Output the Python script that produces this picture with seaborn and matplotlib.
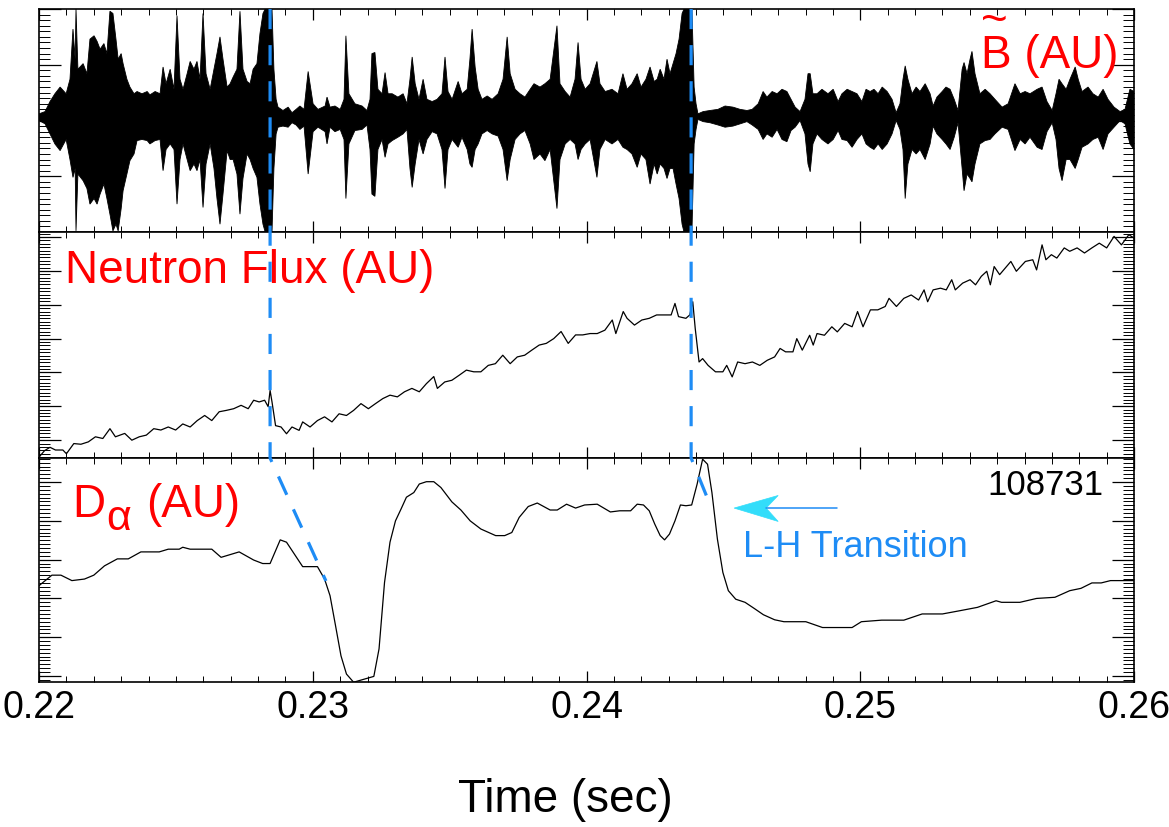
import numpy as np
import pandas as pd
import matplotlib
matplotlib.use("Agg")
import matplotlib.pyplot as plt
from matplotlib.ticker import MultipleLocator, FormatStrFormatter
from matplotlib.patches import Polygon
import seaborn as sns

# ---------------------------------------------------------------------------
# Shot 108731 : magnetic fluctuations, neutron flux and D-alpha around two
# L-H transitions.  Times are in ms, signals in arbitrary units.
# ---------------------------------------------------------------------------

shot_label = "108731"
transition_ms = [228.44, 243.82]
# where the transition marker meets the D-alpha trace
transition_dalpha_ms = [230.48, 244.58]
transition_dalpha_val = [2.45, 4.30]

# B-tilde: upper / lower envelope of the fluctuation signal
b_time_ms = [
    220.00, 220.22, 220.40, 220.58, 220.77, 220.99, 221.13, 221.24, 221.32, 221.35,
    221.42, 221.61, 221.75, 221.86, 222.01, 222.12, 222.23, 222.37, 222.48, 222.59,
    222.70, 222.81, 222.89, 223.00, 223.07, 223.21, 223.32, 223.47, 223.58, 223.76,
    223.95, 224.05, 224.24, 224.42, 224.53, 224.64, 224.79, 224.93, 225.04, 225.15,
    225.26, 225.41, 225.52, 225.66, 225.77, 225.88, 225.99, 226.10, 226.25, 226.39,
    226.50, 226.61, 226.72, 226.87, 226.98, 227.09, 227.23, 227.34, 227.45, 227.60,
    227.71, 227.82, 227.96, 228.07, 228.18, 228.26, 228.51, 228.58, 228.66, 228.73,
    228.91, 229.10, 229.24, 229.39, 229.53, 229.68, 229.83, 230.01, 230.19, 230.45,
    230.52, 230.63, 230.81, 231.00, 231.14, 231.21, 231.32, 231.54, 231.80, 231.98,
    232.09, 232.16, 232.27, 232.38, 232.53, 232.64, 232.75, 232.90, 233.11, 233.30,
    233.44, 233.55, 233.63, 233.74, 233.88, 234.03, 234.17, 234.36, 234.54, 234.72,
    234.83, 234.94, 235.09, 235.31, 235.45, 235.64, 235.74, 235.82, 235.93, 236.04,
    236.18, 236.37, 236.55, 236.77, 236.95, 237.10, 237.21, 237.39, 237.57, 237.75,
    237.94, 238.08, 238.30, 238.48, 238.67, 238.92, 239.03, 239.22, 239.40, 239.58,
    239.69, 239.80, 239.95, 240.13, 240.38, 240.49, 240.68, 240.93, 241.15, 241.33,
    241.48, 241.66, 241.85, 241.99, 242.17, 242.32, 242.47, 242.58, 242.69, 242.83,
    242.94, 243.05, 243.16, 243.27, 243.38, 243.49, 243.56, 243.85, 243.93, 244.00,
    244.07, 244.26, 244.51, 244.80, 245.06, 245.35, 245.61, 245.86, 246.05, 246.27,
    246.45, 246.59, 246.78, 246.96, 247.14, 247.32, 247.47, 247.62, 247.80, 247.98,
    248.09, 248.17, 248.27, 248.42, 248.60, 248.82, 249.01, 249.19, 249.33, 249.52,
    249.70, 249.88, 250.06, 250.21, 250.36, 250.50, 250.65, 250.80, 250.98, 251.16,
    251.31, 251.45, 251.56, 251.64, 251.74, 251.89, 252.04, 252.18, 252.37, 252.55,
    252.66, 252.80, 252.99, 253.13, 253.28, 253.43, 253.57, 253.72, 253.79, 253.90,
    254.01, 254.08, 254.19, 254.37, 254.56, 254.74, 254.92, 255.18, 255.40, 255.65,
    255.84, 256.02, 256.20, 256.46, 256.64, 256.82, 257.01, 257.15, 257.26, 257.37,
    257.52, 257.66, 257.85, 257.96, 258.10, 258.32, 258.50, 258.69, 258.87, 259.05,
    259.27, 259.49, 259.67, 259.85, 260.00,
]
b_upper = [
    0.06, 0.08, 0.17, 0.24, 0.30, 0.24, 0.37, 0.82, 0.55, 1.00,
    0.46, 0.51, 0.42, 0.73, 0.76, 0.71, 0.64, 0.69, 0.60, 0.98,
    0.96, 0.73, 0.55, 0.60, 0.51, 0.37, 0.30, 0.24, 0.26, 0.24,
    0.26, 0.23, 0.26, 0.24, 0.48, 0.33, 0.46, 0.28, 0.94, 0.37,
    0.28, 0.42, 0.53, 0.46, 0.53, 0.37, 0.96, 0.42, 0.28, 0.46,
    0.60, 0.75, 0.55, 0.30, 0.33, 0.39, 0.46, 0.98, 0.46, 0.35,
    0.33, 0.46, 0.51, 0.78, 0.96, 1.00, 1.00, 0.46, 0.19, 0.12,
    0.09, 0.12, 0.07, 0.10, 0.13, 0.10, 0.44, 0.15, 0.10, 0.13,
    0.21, 0.12, 0.13, 0.10, 0.19, 0.76, 0.24, 0.15, 0.13, 0.09,
    0.19, 0.60, 0.61, 0.28, 0.24, 0.43, 0.24, 0.24, 0.21, 0.24,
    0.15, 0.37, 0.57, 0.33, 0.19, 0.37, 0.19, 0.17, 0.19, 0.24,
    0.57, 0.26, 0.19, 0.35, 0.24, 0.28, 0.55, 0.82, 0.48, 0.28,
    0.19, 0.22, 0.19, 0.24, 0.37, 0.75, 0.42, 0.28, 0.24, 0.21,
    0.28, 0.33, 0.30, 0.33, 0.37, 0.85, 0.33, 0.26, 0.21, 0.37,
    0.70, 0.37, 0.28, 0.33, 0.53, 0.33, 0.26, 0.28, 0.24, 0.42,
    0.28, 0.33, 0.42, 0.30, 0.37, 0.48, 0.35, 0.37, 0.46, 0.37,
    0.55, 0.42, 0.51, 0.60, 0.73, 0.96, 1.00, 1.00, 0.30, 0.15,
    0.06, 0.08, 0.09, 0.10, 0.13, 0.12, 0.10, 0.09, 0.10, 0.15,
    0.26, 0.21, 0.26, 0.24, 0.28, 0.26, 0.19, 0.12, 0.08, 0.19,
    0.42, 0.42, 0.24, 0.24, 0.28, 0.24, 0.28, 0.17, 0.24, 0.28,
    0.26, 0.24, 0.17, 0.28, 0.26, 0.28, 0.24, 0.30, 0.26, 0.19,
    0.07, 0.15, 0.37, 0.49, 0.37, 0.24, 0.30, 0.26, 0.33, 0.24,
    0.13, 0.21, 0.26, 0.30, 0.28, 0.19, 0.09, 0.46, 0.52, 0.42,
    0.55, 0.62, 0.42, 0.24, 0.28, 0.24, 0.19, 0.12, 0.15, 0.33,
    0.24, 0.26, 0.24, 0.28, 0.30, 0.17, 0.09, 0.24, 0.37, 0.33,
    0.28, 0.37, 0.48, 0.37, 0.26, 0.30, 0.24, 0.21, 0.28, 0.19,
    0.12, 0.08, 0.10, 0.28, 0.26,
]
b_lower = [
    -0.00, -0.03, -0.12, -0.21, -0.27, -0.17, -0.35, -0.51, -0.43, -0.99,
    -0.48, -0.54, -0.61, -0.75, -0.70, -0.75, -0.66, -0.57, -0.70, -0.84,
    -0.99, -0.93, -0.99, -0.79, -0.63, -0.48, -0.36, -0.30, -0.18, -0.17,
    -0.18, -0.21, -0.18, -0.17, -0.45, -0.26, -0.21, -0.26, -0.75, -0.35,
    -0.21, -0.35, -0.45, -0.39, -0.45, -0.35, -0.78, -0.39, -0.21, -0.43,
    -0.70, -0.93, -0.66, -0.27, -0.35, -0.35, -0.48, -0.84, -0.52, -0.30,
    -0.35, -0.43, -0.51, -0.75, -0.93, -1.00, -1.00, -0.43, -0.12, -0.06,
    -0.05, -0.06, -0.02, -0.04, -0.08, -0.05, -0.48, -0.10, -0.06, -0.10,
    -0.21, -0.06, -0.10, -0.08, -0.17, -0.70, -0.21, -0.09, -0.08, -0.04,
    -0.26, -0.66, -0.68, -0.26, -0.17, -0.33, -0.21, -0.18, -0.15, -0.12,
    -0.08, -0.43, -0.60, -0.39, -0.17, -0.30, -0.17, -0.10, -0.12, -0.26,
    -0.61, -0.26, -0.17, -0.24, -0.15, -0.26, -0.39, -0.42, -0.26, -0.21,
    -0.12, -0.09, -0.12, -0.14, -0.26, -0.54, -0.35, -0.17, -0.12, -0.09,
    -0.21, -0.35, -0.30, -0.36, -0.26, -0.79, -0.35, -0.21, -0.17, -0.21,
    -0.35, -0.26, -0.21, -0.17, -0.51, -0.26, -0.17, -0.21, -0.17, -0.24,
    -0.26, -0.30, -0.42, -0.30, -0.35, -0.57, -0.39, -0.48, -0.39, -0.43,
    -0.52, -0.43, -0.43, -0.57, -0.70, -0.93, -1.00, -1.00, -0.21, -0.08,
    0.01, -0.01, -0.02, -0.04, -0.06, -0.05, -0.03, -0.01, -0.04, -0.08,
    -0.17, -0.12, -0.15, -0.08, -0.17, -0.19, -0.09, -0.06, -0.00, -0.12,
    -0.39, -0.46, -0.21, -0.12, -0.17, -0.21, -0.17, -0.09, -0.17, -0.18,
    -0.24, -0.17, -0.12, -0.21, -0.24, -0.26, -0.21, -0.26, -0.21, -0.12,
    -0.00, -0.08, -0.26, -0.70, -0.39, -0.26, -0.30, -0.26, -0.35, -0.21,
    -0.05, -0.12, -0.17, -0.21, -0.26, -0.15, -0.02, -0.43, -0.63, -0.48,
    -0.52, -0.55, -0.39, -0.21, -0.18, -0.17, -0.12, -0.06, -0.08, -0.27,
    -0.17, -0.21, -0.15, -0.24, -0.26, -0.10, -0.02, -0.17, -0.43, -0.54,
    -0.35, -0.35, -0.43, -0.35, -0.24, -0.21, -0.17, -0.15, -0.26, -0.12,
    -0.06, -0.00, -0.03, -0.21, -0.26,
]

# Neutron flux
n_time_ms = [
    220.00, 220.20, 220.40, 220.60, 220.87, 221.00, 221.27, 221.53, 221.80, 222.06,
    222.33, 222.59, 222.79, 223.13, 223.39, 223.66, 223.92, 224.19, 224.45, 224.72,
    224.99, 225.25, 225.52, 225.78, 226.05, 226.31, 226.58, 226.84, 227.11, 227.38,
    227.64, 227.84, 228.04, 228.24, 228.37, 228.44, 228.51, 228.64, 228.84, 229.04,
    229.24, 229.50, 229.63, 229.90, 230.17, 230.43, 230.70, 230.96, 231.23, 231.49,
    231.76, 232.03, 232.29, 232.56, 232.82, 233.09, 233.35, 233.62, 233.89, 234.15,
    234.42, 234.55, 234.82, 235.08, 235.35, 235.61, 235.88, 236.14, 236.41, 236.67,
    236.94, 237.21, 237.47, 237.74, 238.00, 238.27, 238.53, 238.80, 239.07, 239.33,
    239.60, 239.86, 240.13, 240.39, 240.67, 240.94, 241.07, 241.34, 241.48, 241.75,
    242.02, 242.29, 242.56, 242.82, 243.09, 243.23, 243.36, 243.63, 243.77, 243.88,
    243.97, 244.11, 244.24, 244.44, 244.71, 244.98, 245.12, 245.32, 245.52, 245.79,
    246.06, 246.33, 246.60, 246.87, 247.07, 247.27, 247.54, 247.68, 247.88, 248.15,
    248.28, 248.42, 248.69, 248.96, 249.16, 249.43, 249.70, 249.90, 250.10, 250.37,
    250.64, 250.91, 251.05, 251.32, 251.59, 251.86, 252.13, 252.33, 252.46, 252.66,
    252.93, 253.14, 253.34, 253.47, 253.74, 254.01, 254.21, 254.42, 254.62, 254.75,
    254.89, 255.09, 255.29, 255.50, 255.70, 256.03, 256.30, 256.44, 256.64, 256.78,
    256.98, 257.18, 257.45, 257.65, 257.92, 258.19, 258.46, 258.73, 259.00, 259.27,
    259.54, 259.81, 260.00,
]
n_flux = [
    -0.50, -0.31, -0.21, -0.29, -0.29, -0.40, -0.10, -0.12, -0.05, 0.10,
    0.05, 0.34, 0.10, 0.20, 0.00, 0.10, 0.15, 0.34, 0.30, 0.39,
    0.30, 0.48, 0.39, 0.58, 0.73, 0.58, 0.84, 0.88, 0.93, 1.03,
    0.93, 1.18, 1.13, 1.18, 0.99, 1.47, 1.13, 0.43, 0.39, 0.19,
    0.39, 0.29, 0.54, 0.39, 0.58, 0.69, 0.54, 0.78, 0.73, 0.88,
    1.08, 0.93, 1.08, 1.23, 1.33, 1.28, 1.43, 1.53, 1.43, 1.67,
    1.88, 1.53, 1.72, 1.77, 1.92, 2.07, 2.02, 2.02, 2.21, 2.26,
    2.51, 2.26, 2.46, 2.51, 2.66, 2.81, 2.86, 3.00, 3.21, 2.86,
    3.11, 3.11, 3.15, 3.15, 3.25, 3.55, 3.15, 3.80, 3.60, 3.40,
    3.55, 3.60, 3.70, 3.70, 3.70, 4.04, 3.65, 3.60, 3.70, 4.09,
    3.30, 2.31, 2.41, 2.21, 2.02, 2.02, 2.21, 1.87, 2.31, 2.26,
    2.31, 2.21, 2.36, 2.46, 2.71, 2.61, 2.61, 3.00, 2.66, 3.10,
    2.81, 3.15, 3.10, 3.35, 3.20, 3.45, 3.35, 3.80, 3.35, 3.85,
    3.85, 3.95, 4.19, 3.95, 4.19, 4.29, 4.14, 4.44, 4.09, 4.44,
    4.49, 4.44, 4.74, 4.44, 4.64, 4.74, 4.59, 4.84, 4.99, 4.59,
    5.13, 4.89, 5.08, 5.28, 4.99, 5.28, 5.33, 5.03, 5.77, 5.33,
    5.48, 5.38, 5.68, 5.58, 5.68, 5.53, 5.68, 5.82, 5.68, 6.02,
    5.77, 6.07, 5.97,
]

# D-alpha
d_time_ms = [
    220.00, 220.47, 220.80, 221.20, 221.66, 222.00, 222.39, 222.86, 223.26, 223.72,
    224.39, 224.72, 225.12, 225.25, 225.52, 226.31, 226.65, 227.31, 227.84, 228.17,
    228.44, 228.81, 229.04, 229.63, 230.17, 230.43, 230.63, 230.83, 231.03, 231.23,
    231.49, 232.23, 232.42, 232.62, 232.82, 233.02, 233.22, 233.42, 233.69, 233.89,
    234.15, 234.42, 234.68, 235.08, 235.41, 235.75, 236.14, 236.68, 237.01, 237.27,
    237.54, 237.87, 238.20, 238.67, 238.93, 239.27, 239.60, 239.93, 240.39, 240.87,
    241.21, 241.61, 241.85, 242.08, 242.29, 242.49, 242.69, 242.85, 243.03, 243.23,
    243.43, 243.63, 243.84, 244.04, 244.24, 244.42, 244.58, 244.78, 244.98, 245.18,
    245.45, 245.79, 246.13, 246.46, 246.87, 247.21, 248.01, 248.62, 249.70, 250.04,
    250.78, 251.59, 252.26, 253.00, 253.61, 254.28, 254.96, 255.16, 255.83, 256.44,
    257.11, 257.65, 258.06, 258.46, 258.80, 259.14, 260.00,
]
d_alpha = [
    2.33, 2.60, 2.60, 2.46, 2.50, 2.60, 2.84, 3.02, 3.02, 3.20,
    3.20, 3.27, 3.27, 3.32, 3.27, 3.27, 3.06, 3.20, 2.99, 2.90,
    2.90, 3.51, 3.45, 2.82, 2.82, 2.50, 2.07, 1.30, 0.52, 0.05,
    -0.16, -0.01, 0.70, 2.41, 3.45, 4.00, 4.30, 4.61, 4.73, 4.95,
    5.01, 5.01, 4.86, 4.49, 4.28, 4.00, 3.79, 3.62, 3.62, 3.70,
    4.09, 4.37, 4.46, 4.28, 4.28, 4.43, 4.33, 4.41, 4.43, 4.23,
    4.26, 4.26, 4.43, 4.41, 4.26, 3.92, 3.62, 3.51, 3.66, 4.00,
    4.41, 4.39, 4.41, 4.95, 5.59, 5.46, 4.73, 3.53, 2.67, 2.20,
    1.98, 1.90, 1.74, 1.58, 1.45, 1.40, 1.40, 1.25, 1.25, 1.40,
    1.44, 1.44, 1.60, 1.60, 1.68, 1.77, 1.94, 1.90, 1.90, 2.00,
    2.03, 2.20, 2.26, 2.40, 2.40, 2.46, 2.46,
]

x_ticks = [0.22, 0.23, 0.24, 0.25, 0.26]

# ---------------------------------------------------------------------------
sns.set_style("ticks")
plt.rcParams["font.family"] = ["Liberation Sans", "DejaVu Sans"]
plt.rcParams["text.color"] = "black"
plt.rcParams["xtick.color"] = "black"
plt.rcParams["ytick.color"] = "black"

RED = "#ff0000"
BLUE = "#1e8cf5"
CYAN = "#33ddfa"

fig = plt.figure(figsize=(11.69, 8.28), dpi=100)
left, width = 0.0334, 0.9367
ax_top = fig.add_axes([left, 0.7186, width, 0.2693])
ax_mid = fig.add_axes([left, 0.4457, width, 0.2729], sharex=ax_top)
ax_bot = fig.add_axes([left, 0.1751, width, 0.2705], sharex=ax_top)

# --- B-tilde ---------------------------------------------------------------
bt = np.asarray(b_time_ms) / 1000.0
bu = np.asarray(b_upper)
bl = np.asarray(b_lower)
ax_top.fill(np.r_[bt, bt[::-1]], np.r_[bu, bl[::-1]],
            facecolor="black", edgecolor="black", lw=0.6)

# --- Neutron flux ----------------------------------------------------------
neutron = pd.DataFrame({"time": np.asarray(n_time_ms) / 1000.0, "flux": n_flux})
sns.lineplot(data=neutron, x="time", y="flux", ax=ax_mid, color="black",
             lw=0.9, estimator=None, sort=False)

# --- D-alpha ---------------------------------------------------------------
dalpha = pd.DataFrame({"time": np.asarray(d_time_ms) / 1000.0, "dalpha": d_alpha})
sns.lineplot(data=dalpha, x="time", y="dalpha", ax=ax_bot, color="black",
             lw=0.9, estimator=None, sort=False)

# --- axes styling ----------------------------------------------------------
ax_top.set_ylim(-1.0, 1.0)
ax_mid.set_ylim(-0.525, 6.15)
ax_bot.set_ylim(-0.155, 5.62)
ax_bot.set_xlim(0.22, 0.26)

ax_top.yaxis.set_major_locator(MultipleLocator(0.5))
ax_top.yaxis.set_minor_locator(MultipleLocator(0.05))
for ax in (ax_mid, ax_bot):
    ax.yaxis.set_major_locator(MultipleLocator(1.0))
    ax.yaxis.set_minor_locator(MultipleLocator(0.1))

for ax in (ax_top, ax_mid, ax_bot):
    ax.xaxis.set_major_locator(MultipleLocator(0.01))
    ax.xaxis.set_minor_locator(MultipleLocator(0.001))
    ax.tick_params(axis="both", which="both", direction="in", top=True,
                   right=True, left=True, bottom=True, color="black",
                   labelleft=False, labelbottom=False)
    ax.tick_params(axis="y", which="major", length=16, width=0.9)
    ax.tick_params(axis="y", which="minor", length=8, width=0.7)
    ax.tick_params(axis="x", which="major", length=8, width=0.9)
    ax.tick_params(axis="x", which="minor", length=4, width=0.7)
    for sp in ax.spines.values():
        sp.set_visible(True)
        sp.set_color("black")
        sp.set_linewidth(1.2)
    ax.set_xlabel("")
    ax.set_ylabel("")

ax_bot.set_xticks(x_ticks)
ax_bot.xaxis.set_major_formatter(FormatStrFormatter("%.2f"))
ax_bot.tick_params(axis="x", which="major", labelbottom=True, labelsize=27,
                   pad=5, labelcolor="black")

fig.text(0.484, 0.0193, "Time (sec)", ha="center", va="baseline", fontsize=33,
         color="black")

# --- panel labels ----------------------------------------------------------
# the tilde sits on its own line directly over the "B"
ax_top.text(0.9854, 0.695, "~\nB (AU)", color=RED, fontsize=33,
            ha="right", va="bottom", multialignment="left", linespacing=0.72,
            transform=ax_top.transAxes)
ax_mid.text(0.0237, 0.779, "Neutron Flux (AU)", color=RED, fontsize=33,
            ha="left", va="baseline", transform=ax_mid.transAxes)
ax_bot.text(0.0301, 0.741, "D", color=RED, fontsize=33,
            ha="left", va="baseline", transform=ax_bot.transAxes)
ax_bot.text(0.0612, 0.683, "\u03b1", color=RED, fontsize=31,
            ha="left", va="baseline", transform=ax_bot.transAxes)
ax_bot.text(0.0977, 0.741, "(AU)", color=RED, fontsize=33,
            ha="left", va="baseline", transform=ax_bot.transAxes)
ax_bot.text(0.9717, 0.839, shot_label, color="black", fontsize=25,
            ha="right", va="baseline", transform=ax_bot.transAxes)

# --- L-H transition markers -----------------------------------------------
inv = ax_bot.transData.inverted()
y_fig_top = inv.transform(ax_top.transAxes.transform((0, 1)))[1]
y_bot_top = ax_bot.get_ylim()[1]
for t_ms, te_ms, ve in zip(transition_ms, transition_dalpha_ms,
                           transition_dalpha_val):
    t = t_ms / 1000.0
    ax_bot.plot([t, t, te_ms / 1000.0], [y_fig_top, y_bot_top, ve],
                color=BLUE, lw=2.3, ls=(0, (6.3, 5.0)), clip_on=False,
                zorder=6, scalex=False, scaley=False)

# arrow pointing at the second transition
tip_t, tip_v = 0.24539, 4.33
head = Polygon([[tip_t, tip_v], [0.24700, 4.655], [0.24656, tip_v],
                [0.24700, 3.985]], closed=True, facecolor=CYAN,
               edgecolor=CYAN, lw=0.5, zorder=7)
ax_bot.add_patch(head)
ax_bot.plot([0.24656, 0.24915], [tip_v, tip_v], color=BLUE, lw=1.1,
            zorder=7, scalex=False, scaley=False)
ax_bot.text(0.6429, 0.5625, "L-H Transition", color=BLUE, fontsize=26,
            ha="left", va="baseline", transform=ax_bot.transAxes)

ax_bot.set_ylim(-0.155, 5.62)
ax_bot.set_xlim(0.22, 0.26)

fig.savefig("out.png", dpi=100)
